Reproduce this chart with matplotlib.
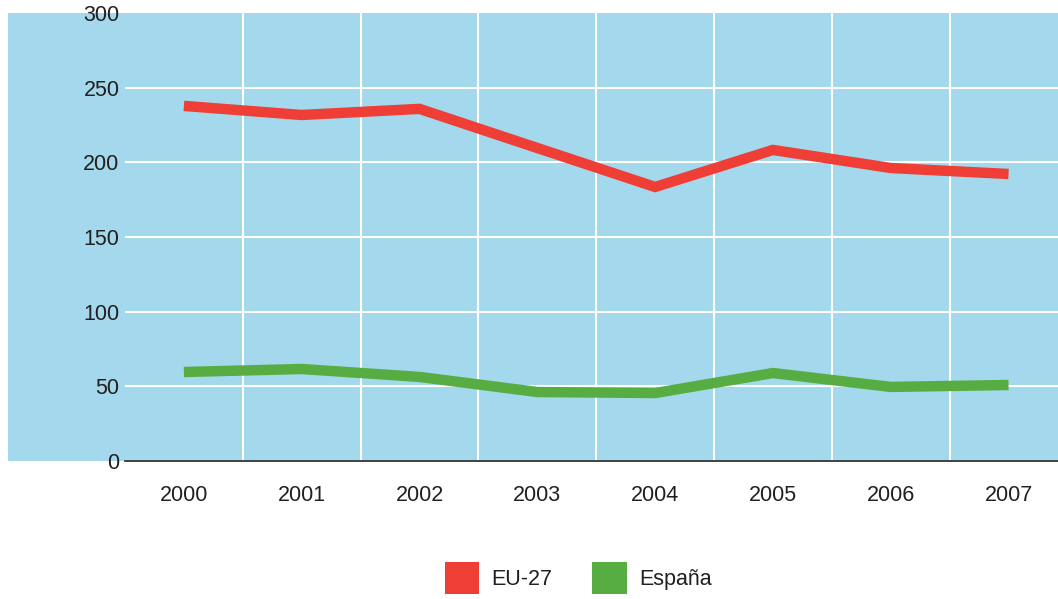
import matplotlib.pyplot as plt
from matplotlib.patches import Patch, Rectangle

# %% Data
years = ['2000', '2001', '2002', '2003', '2004', '2005', '2006', '2007']
eu27 = [237.8, 231.7, 235.8, 209.6, 183.5, 208.3, 196.2, 192.2]
espana = [59.6, 61.6, 56.3, 46.2, 45.5, 58.9, 49.6, 50.9]

# %% Style
plt.rcParams['font.family'] = ['Liberation Sans', 'DejaVu Sans']
blue_bg = '#a4d8ec'
red = '#ef3e36'
green = '#57ad41'
txt = '#231f20'
fs = 15.5

W, H = 1058, 599
fig = plt.figure(figsize=(W / 100, H / 100), dpi=100)

# blue panel behind the axes (also covers the y tick label area)
fig.patches.append(Rectangle((8 / W, 1 - 461 / H), (W - 8) / W, (461 - 13) / H,
                             transform=fig.transFigure, facecolor=blue_bg,
                             edgecolor='none', zorder=-10))

ax = fig.add_axes([125 / W, 1 - 461 / H, (W - 125) / W, (461 - 13) / H])
ax.set_facecolor('none')

x = list(range(len(years)))
ax.plot(x, eu27, color=red, lw=7.5, solid_joinstyle='miter', solid_capstyle='butt', zorder=3)
ax.plot(x, espana, color=green, lw=7.5, solid_joinstyle='miter', solid_capstyle='butt', zorder=3)

ax.set_xlim(-0.5, 7.42)
ax.set_ylim(0, 300)
ax.set_xticks(x)
ax.set_xticklabels(years)
ax.set_xticks([i + 0.5 for i in range(7)], minor=True)
ax.set_yticks(range(0, 301, 50))

ax.grid(True, axis='y', which='major', color='white', lw=1.5)
ax.grid(True, axis='x', which='minor', color='white', lw=1.5)
ax.get_ygridlines()[-1].set_visible(False)
ax.set_axisbelow(True)

for s in ['top', 'right', 'left']:
    ax.spines[s].set_visible(False)
ax.spines['bottom'].set_color(txt)
ax.spines['bottom'].set_linewidth(1.2)

ax.tick_params(axis='both', which='both', length=0, labelsize=fs, colors=txt)
ax.tick_params(axis='x', pad=17)
ax.tick_params(axis='y', pad=4)

handles = [Patch(facecolor=red, label='EU-27'), Patch(facecolor=green, label='España')]
fig.legend(handles=handles, loc='center', bbox_to_anchor=(578 / W, 1 - 578 / H),
           ncol=2, frameon=False, fontsize=fs, handlelength=1.62, handleheight=1.97,
           handletextpad=0.55, columnspacing=1.85, labelcolor=txt)

plt.savefig('out.png', dpi=100)
